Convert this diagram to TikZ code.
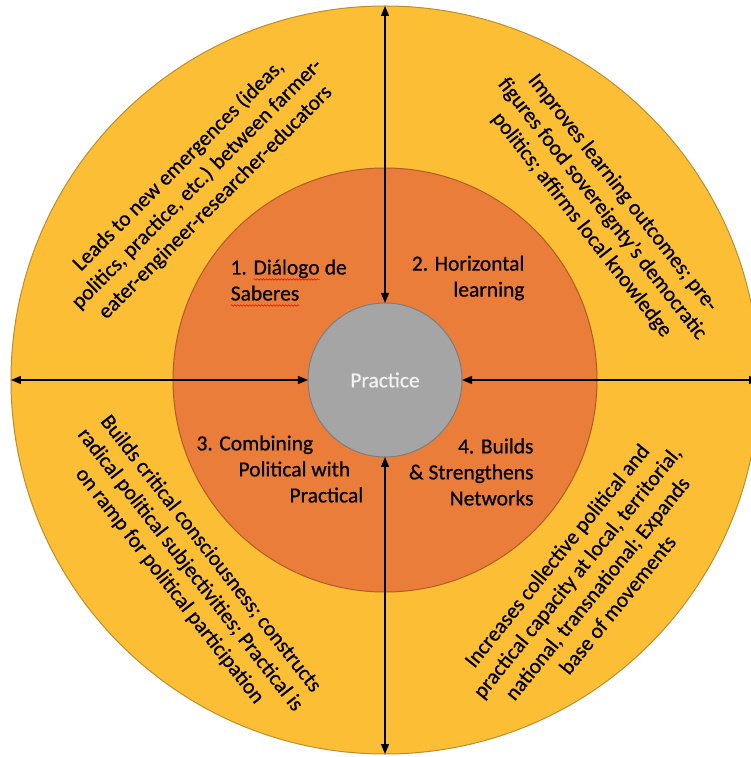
\documentclass[tikz,border=0pt]{standalone}
\usepackage{fontspec}
\setmainfont{Carlito}[FakeBold=0.6]
\usetikzlibrary{arrows.meta, decorations.pathmorphing}

\definecolor{ringgold}{RGB}{251,190,52}
\definecolor{goldedge}{RGB}{190,142,45}
\definecolor{ringorange}{RGB}{235,125,58}
\definecolor{orangeedge}{RGB}{176,92,36}
\definecolor{coregray}{RGB}{165,165,165}
\definecolor{coreedge}{RGB}{125,125,125}
\definecolor{coretext}{RGB}{242,242,242}

% red wavy underline under a word
\newcommand\spellwave[1]{\tikz[baseline=(word.base)]{%
    \node[inner sep=0pt, outer sep=0pt] (word) {#1};
    \draw[red, line width=0.5pt, decorate, decoration={snake, amplitude=0.7pt, segment length=3pt}]
        ([yshift=-5pt]word.base west) -- ([yshift=-5pt]word.base east);}}

\begin{document}
\begin{tikzpicture}[x=1pt, y=1pt,
    ring/.style={circle, draw, line width=1pt, inner sep=0pt, outer sep=0pt},
    ringlabel/.style={text=black, font=\fontsize{21.5}{26}\selectfont},
    bandtext/.style={ringlabel, align=center},
    link/.style={line width=1.2pt, {Triangle[length=10pt,width=8pt]}-{Triangle[length=10pt,width=8pt]}}]

        % Canvas
        \useasboundingbox (-385,-377) rectangle (366,380);
        \clip (-385,-377) rectangle (366,380);

        % Draw rings
        \node[ring, fill=ringgold, draw=goldedge, minimum size=748pt] (outer) at (0,0) {};
        \node[ring, fill=ringorange, draw=orangeedge, minimum size=424pt] (middle) at (0,0) {};
        \node[ring, fill=coregray, draw=coreedge, minimum size=154pt, text=coretext,
              font=\fontsize{21.5}{26}\selectfont] (core) at (0,0) {Practice};

        % Draw connections
        \draw[link] (outer.north) -- (core.north);
        \draw[link] (core.south) -- (outer.south);
        \draw[link] (outer.west) -- (core.west);
        \draw[link] (core.east) -- (outer.east);

        % Labels in the orange ring
        \node[ringlabel, anchor=west, align=left] (dialogo) at (-158,97)
            {1. \spellwave{Diálogo} de\\\spellwave{Saberes}};
        \node[ringlabel, anchor=east, align=right] (horizontal) at (143,102)
            {2. Horizontal\\learning};
        \node[ringlabel, anchor=west, align=left] (combining) at (-192,-89)
            {3. Combining\\\hspace*{42pt}Political with\\\hspace*{93pt}Practical};
        \node[ringlabel, anchor=east, align=right] (networks) at (152,-92)
            {4. Builds\\\& Strengthens\\Networks};

        % Labels in the outer ring
        \node[bandtext, rotate=45] (emergences) at (-188,196)
            {Leads to new emergences (ideas,\\politics, practice, etc.) between farmer-\\eater-engineer-researcher-educators};
        \node[bandtext, rotate=-52] (outcomes) at (217,171)
            {Improves learning outcomes; pre-\\figures food sovereignty’s democratic\\politics; affirms local knowledge};
        \node[bandtext, rotate=-52] (consciousness) at (-195,-190)
            {Builds critical consciousness; constructs\\radical political subjectivities; Practical is\\on ramp for political participation};
        \node[bandtext, rotate=51] (capacity) at (202,-200)
            {Increases collective political and\\practical capacity at local, territorial,\\national, transnational; Expands\\base of movements};
    \end{tikzpicture}
\end{document}
